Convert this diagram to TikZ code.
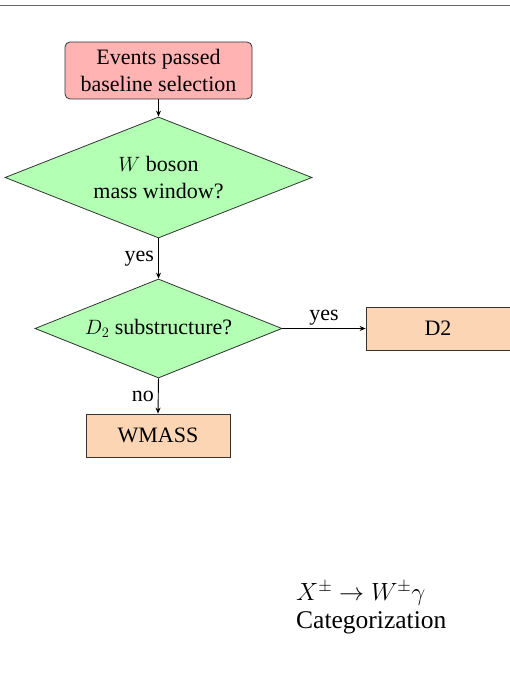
\documentclass[tikz,border=0pt]{standalone}
\usepackage{fontspec}
\setmainfont{Liberation Serif}
\usetikzlibrary{shapes.geometric,arrows.meta}
\definecolor{startcol}{RGB}{255,179,179}
\definecolor{deccol}{RGB}{179,255,179}
\definecolor{outcol}{RGB}{252,214,180}
\tikzset{
  x=1pt,y=1pt,
  every node/.style={font=\fontsize{22}{26.5}\selectfont},
  startbox/.style={draw=black!80, line width=0.8pt, fill=startcol, rounded corners=5pt, minimum width=187pt, minimum height=57pt, inner sep=0pt, align=center},
  decbox/.style={draw=black!80, line width=0.8pt, fill=deccol, diamond, inner sep=0pt, align=center},
  outbox/.style={draw=black!80, line width=0.8pt, fill=outcol, minimum width=144pt, minimum height=43pt, inner sep=0pt},
  conn/.style={-{Stealth[length=6pt,width=5pt]}, line width=0.9pt},
  lbl/.style={font=\fontsize{22}{26}\selectfont}
}
\begin{document}
\begin{tikzpicture}
\useasboundingbox (0,0) rectangle (510,687);
\coordinate (tl) at (0,681);
\coordinate (tr) at (510,681);
\draw[black!60, line width=1pt] (tl) -- (tr);
\node[startbox] (start) at (158.5,616.5) {Events passed\\baseline selection};
\node[decbox, aspect=2.54, minimum width=307pt, minimum height=121pt] (d1) at (158.5,509.5) {$W$ boson\\mass window?};
\node[decbox, aspect=2.5, minimum width=247pt, minimum height=99pt] (d2) at (158.5,358.5) {$D_2$ substructure?};
\node[outbox] (dtwo) at (438,358.5) {D2};
\node[outbox] (wmass) at (158,251.5) {WMASS};
\draw[conn] (start.south) -- (d1.north);
\draw[conn] (d1.south) -- node[lbl, left, inner sep=4pt] {yes} (d2.north);
\draw[conn] (d2.east) -- node[lbl, above, inner sep=3pt] {yes} (dtwo.west);
\draw[conn] (d2.south) -- node[lbl, left, inner sep=4pt] {no} (wmass.north);
\node[anchor=west, align=left, font=\fontsize{25.5}{28}\selectfont, inner sep=0pt] (title) at (296,79) {$X^\pm\to W^\pm\gamma$\\Categorization};
\end{tikzpicture}
\end{document}
